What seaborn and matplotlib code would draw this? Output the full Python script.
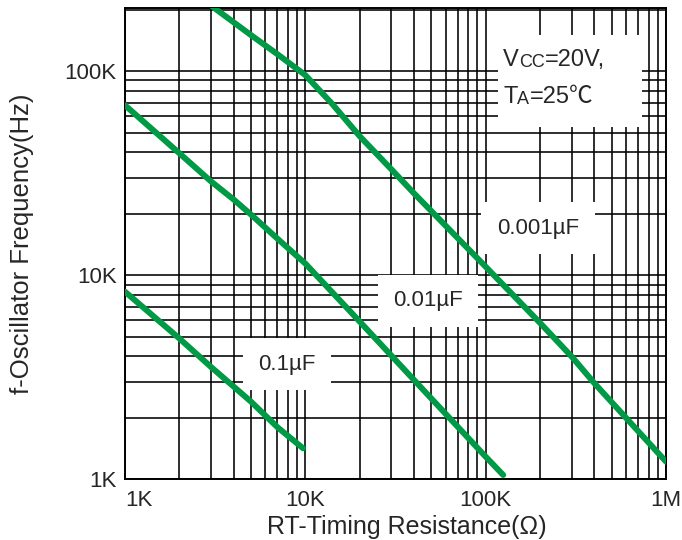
import pandas as pd
import seaborn as sns
import matplotlib.pyplot as plt
from matplotlib.patches import Rectangle
from matplotlib.ticker import FixedLocator, LogLocator, NullFormatter

# Curves (R in ohm, f in Hz)
r_100n = [1e3, 2e3, 3e3, 5e3, 7e3, 9.7e3]
f_100n = [8.3e3, 4.9e3, 3.55e3, 2.4e3, 1.8e3, 1.42e3]

r_10n = [1e3, 2e3, 3e3, 4e3, 5e3, 7e3, 10e3, 20e3, 40e3, 100e3, 125e3]
f_10n = [68e3, 39.6e3, 28.8e3, 23.5e3, 19.8e3, 15.1e3, 11.4e3, 5.93e3, 3.07e3, 1.29e3, 1.05e3]

r_1n = [3.05e3, 5e3, 7e3, 10e3, 14e3, 20e3, 30e3, 40e3, 100e3, 200e3, 300e3, 400e3, 1e6]
f_1n = [207e3, 150e3, 121e3, 95.5e3, 69.5e3, 48e3, 33e3, 25.2e3, 11.0e3, 5.84e3, 3.99e3, 2.96e3, 1.22e3]

cap_labels = ['0.1µF', '0.01µF', '0.001µF']
x_ticks = [1e3, 1e4, 1e5, 1e6]
x_ticklabels = ['1K', '10K', '100K', '1M']
y_ticks = [1e3, 1e4, 1e5]
y_ticklabels = ['1K', '10K', '100K']

df = pd.concat([
    pd.DataFrame({'R': r_100n, 'f': f_100n, 'C': cap_labels[0]}),
    pd.DataFrame({'R': r_10n, 'f': f_10n, 'C': cap_labels[1]}),
    pd.DataFrame({'R': r_1n, 'f': f_1n, 'C': cap_labels[2]}),
])

sns.set_style('white')
plt.rcParams['font.family'] = ['Liberation Sans', 'Noto Sans CJK SC', 'DejaVu Sans']
plt.rcParams['font.size'] = 16

green = '#009a46'
fig = plt.figure(figsize=(6.82, 5.4), dpi=100)
ax = fig.add_axes([0.1833, 0.1124, 0.7933, 0.8722])

sns.lineplot(data=df, x='R', y='f', hue='C', palette={c: green for c in cap_labels},
             linewidth=4.3, legend=False, ax=ax, zorder=4, sort=False)

ax.set_xscale('log')
ax.set_yscale('log')
ax.set_xlim(1e3, 1e6)
ax.set_ylim(1e3, 2.03e5)

ax.xaxis.set_major_locator(FixedLocator(x_ticks))
ax.yaxis.set_major_locator(FixedLocator(y_ticks))
ax.xaxis.set_minor_locator(LogLocator(base=10, subs=range(2, 10)))
ax.yaxis.set_minor_locator(LogLocator(base=10, subs=range(2, 10)))
ax.xaxis.set_minor_formatter(NullFormatter())
ax.yaxis.set_minor_formatter(NullFormatter())
ax.set_xticklabels(x_ticklabels)
ax.set_yticklabels(y_ticklabels)
ax.xaxis.get_majorticklabels()[0].set_horizontalalignment('left')
ax.tick_params(which='both', length=0)
ax.tick_params(axis='x', pad=8)
ax.tick_params(axis='y', pad=6)

ax.grid(which='both', color='black', linewidth=1.15)
ax.set_axisbelow(True)
for s in ax.spines.values():
    s.set_color('black')
    s.set_linewidth(1.4)

ax.set_xlabel('RT-Timing Resistance(Ω)', fontsize=18, labelpad=1)
ax.xaxis.set_label_coords(0.52, -0.075)
ax.set_ylabel('f-Oscillator Frequency(Hz)', fontsize=18.5, labelpad=22)

# curve labels on white boxes
box = dict(boxstyle='square,pad=0.7', facecolor='white', edgecolor='none')
ax.text(0.2994, 0.2448, cap_labels[0], transform=ax.transAxes, ha='center', va='center', bbox=box)
ax.text(0.560, 0.3790, cap_labels[1], transform=ax.transAxes, ha='center', va='center', bbox=box)
ax.text(0.7634, 0.5335, cap_labels[2], transform=ax.transAxes, ha='center', va='center', bbox=box)

# conditions box
ax.add_patch(Rectangle((0.689, 0.747), 0.267, 0.196, transform=ax.transAxes,
                       facecolor='white', edgecolor='none', zorder=2.5))
t = ax.text(0.6987, 0.8775, 'V', transform=ax.transAxes, va='baseline', fontsize=17)
t = ax.annotate('CC', xy=(1, 0), xycoords=t, va='bottom', fontsize=13)
ax.annotate('=20V,', xy=(1, 0), xycoords=t, va='bottom', fontsize=17)
t = ax.text(0.6987, 0.7997, 'T', transform=ax.transAxes, va='baseline', fontsize=17)
t = ax.annotate('A', xy=(1, 0), xycoords=t, va='bottom', fontsize=13)
ax.annotate('=25℃', xy=(1, 0), xycoords=t, va='bottom', fontsize=17)

fig.savefig('out.png', dpi=100)
